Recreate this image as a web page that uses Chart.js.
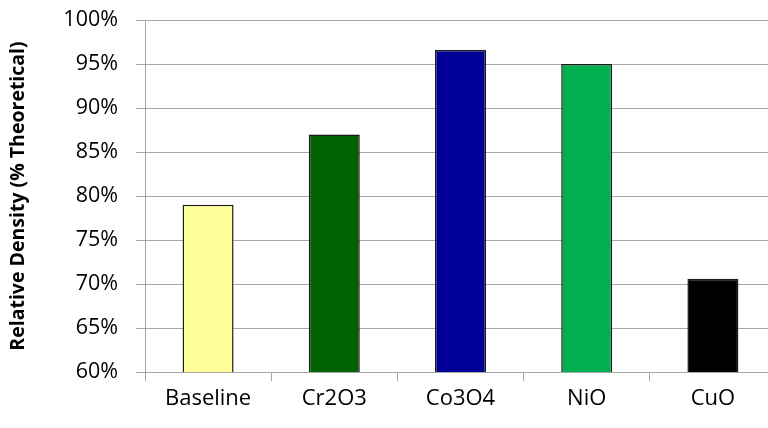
<!DOCTYPE html>
<html>
<head>
<meta charset="utf-8">
<script src="https://cdn.jsdelivr.net/npm/chart.js@4/dist/chart.umd.min.js"></script>
<style>
  html, body { margin: 0; padding: 0; background: #fff; overflow: hidden; }
  #wrap { width: 790px; height: 428px; }
</style>
</head>
<body>
<div id="wrap"><canvas id="c" width="790" height="428"></canvas></div>
<script>
// Sintering additives and the relative density each one reached
const categories = ['Baseline', 'Cr2O3', 'Co3O4', 'NiO', 'CuO'];
const relativeDensity = [79.0, 87.0, 96.6, 95.0, 70.6];
const barColors = ['#FFFF99', '#006100', '#000096', '#00B050', '#000000'];
const yTicks = [60, 65, 70, 75, 80, 85, 90, 95, 100];

const gridColor = '#a6a6a6';

new Chart(document.getElementById('c'), {
  type: 'bar',
  data: {
    labels: categories,
    datasets: [{
      data: relativeDensity,
      backgroundColor: barColors,
      borderColor: '#1a1a1a',
      borderWidth: 1.5,
      barPercentage: 0.404,
      categoryPercentage: 1.0
    }]
  },
  options: {
    responsive: false,
    animation: false,
    layout: { padding: { left: 0, top: 20, right: 14, bottom: 0 } },
    plugins: { legend: { display: false }, tooltip: { enabled: false } },
    scales: {
      x: {
        grid: {
          display: true,
          drawOnChartArea: false,
          drawTicks: true,
          tickLength: 9,
          color: gridColor,
          offset: true
        },
        border: { display: true, color: gridColor },
        ticks: {
          color: '#000',
          padding: 5,
          font: { family: 'Open Sans', size: 22 }
        },
        afterFit: s => { s.height = 56; }
      },
      y: {
        min: 60,
        max: 100,
        afterBuildTicks: s => { s.ticks = yTicks.map(v => ({ value: v })); },
        grid: {
          color: gridColor,
          tickLength: 9,
          drawTicks: true
        },
        border: { display: true, color: gridColor },
        ticks: {
          color: '#000',
          padding: 18,
          font: { family: 'Open Sans', size: 21.5 },
          callback: v => v + '%'
        },
        title: {
          display: true,
          text: 'Relative Density (% Theoretical)',
          color: '#000',
          font: { family: 'Open Sans', size: 19.5, weight: 'bold' },
          padding: { top: 7, bottom: 0 }
        },
        afterFit: s => {
          s.width = 145;
          s.paddingTop = 0;
          s.paddingBottom = 0;
        }
      }
    }
  }
});
</script>
</body>
</html>
